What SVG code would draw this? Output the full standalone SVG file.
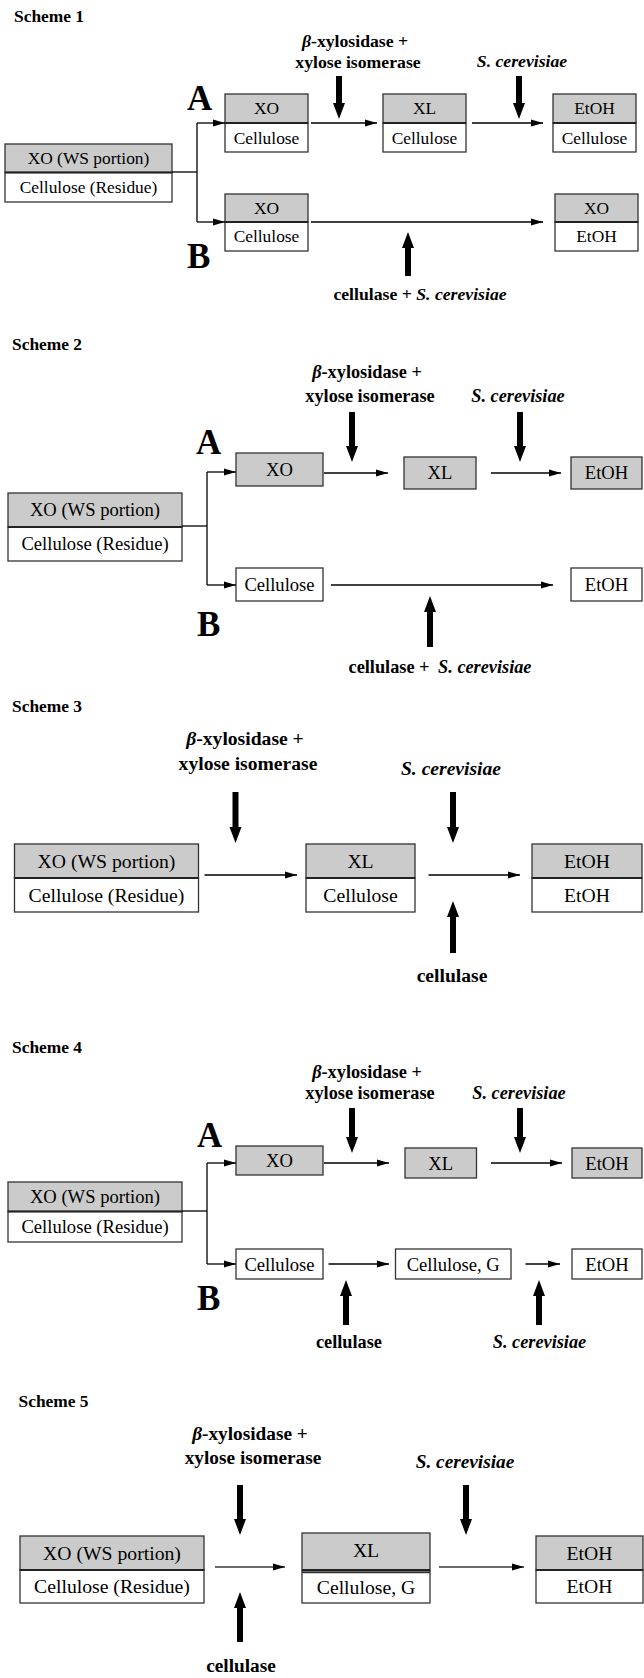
<svg xmlns="http://www.w3.org/2000/svg" width="644" height="1678" viewBox="0 0 644 1678">
<style>
text{font-family:"Liberation Serif","Times New Roman",serif;fill:#000}
.t{font-weight:bold;font-size:17.4px}
.bx{stroke:#333;stroke-width:1.3}
.g{fill:#cbcbcb}
.w{fill:#fff}
.dv{stroke:#222;stroke-width:2}
.c{text-anchor:middle}
.lb{font-weight:bold;text-anchor:middle}
.it{font-style:italic}
.big{font-weight:bold;font-size:35px}
.ln{stroke:#000;stroke-width:1.3;fill:none}
.ln5{stroke:#6a6a6a;stroke-width:2;fill:none}
.th{fill:#000}
.s1 .n{font-size:17.4px}.s1 .lb{font-size:17.7px}
.s2 .n{font-size:18.6px}.s2 .lb{font-size:18.3px}
.s3 .n{font-size:19.7px}.s3 .lb{font-size:19.6px}
.s4 .n{font-size:18.6px}.s4 .lb{font-size:18.3px}
.s5 .n{font-size:19.7px}.s5 .lb{font-size:19.3px}
</style>
<defs>
<marker id="ah" markerUnits="userSpaceOnUse" markerWidth="12" markerHeight="8" refX="12" refY="4" orient="auto"><path d="M0,0.5 L12,4 L0,7.5 Z" fill="#000"/></marker>
</defs>

<!-- ================= Scheme 1 ================= -->
<g class="s1">
<text class="t" x="14" y="22">Scheme 1</text>
<text class="big" x="187" y="110">A</text>
<text class="big" x="187" y="268">B</text>
<g id="s1-src"><rect class="bx g" x="5" y="144" width="167" height="28.5"/><rect class="bx w" x="5" y="172.5" width="167" height="29.5"/><line class="dv" x1="5" y1="172.5" x2="172" y2="172.5"/><text class="n c" x="88.5" y="164">XO (WS portion)</text><text class="n c" x="88.5" y="193">Cellulose (Residue)</text></g>
<g id="s1-a1"><rect class="bx g" x="225" y="94" width="83" height="29"/><rect class="bx w" x="225" y="123" width="83" height="29"/><line class="dv" x1="225" y1="123" x2="308" y2="123"/><text class="n c" x="266.5" y="114">XO</text><text class="n c" x="266.5" y="143.5">Cellulose</text></g>
<g id="s1-a2"><rect class="bx g" x="383" y="94" width="83" height="29"/><rect class="bx w" x="383" y="123" width="83" height="29"/><line class="dv" x1="383" y1="123" x2="466" y2="123"/><text class="n c" x="424.5" y="114">XL</text><text class="n c" x="424.5" y="143.5">Cellulose</text></g>
<g id="s1-a3"><rect class="bx g" x="553" y="94" width="83" height="29"/><rect class="bx w" x="553" y="123" width="83" height="29"/><line class="dv" x1="553" y1="123" x2="636" y2="123"/><text class="n c" x="594.5" y="114">EtOH</text><text class="n c" x="594.5" y="143.5">Cellulose</text></g>
<g id="s1-b1"><rect class="bx g" x="225" y="194" width="83" height="28"/><rect class="bx w" x="225" y="222" width="83" height="29"/><line class="dv" x1="225" y1="222" x2="308" y2="222"/><text class="n c" x="266.5" y="214">XO</text><text class="n c" x="266.5" y="242">Cellulose</text></g>
<g id="s1-b2"><rect class="bx g" x="555" y="194" width="83" height="28"/><rect class="bx w" x="555" y="222" width="83" height="29"/><line class="dv" x1="555" y1="222" x2="638" y2="222"/><text class="n c" x="596.5" y="214">XO</text><text class="n c" x="596.5" y="242">EtOH</text></g>
<text class="lb" x="355" y="47"><tspan class="it">β</tspan>-xylosidase +</text>
<text class="lb" x="358" y="68">xylose isomerase</text>
<text class="lb it" x="522" y="67">S. cerevisiae</text>
<text class="lb" x="420" y="300">cellulase + <tspan class="it">S. cerevisiae</tspan></text>
<g id="s1-conn">
<polyline class="ln" points="172,172 197,172"/>
<line class="ln" x1="197" y1="123" x2="197" y2="222"/>
<line class="ln" x1="197" y1="123" x2="225" y2="123" marker-end="url(#ah)"/>
<line class="ln" x1="197" y1="222" x2="225" y2="222" marker-end="url(#ah)"/>
<line class="ln" x1="311" y1="123" x2="377" y2="123" marker-end="url(#ah)"/>
<line class="ln" x1="472" y1="123" x2="543" y2="123" marker-end="url(#ah)"/>
<line class="ln" x1="311" y1="222" x2="543" y2="222" marker-end="url(#ah)"/>
<path class="th" d="M336,76 H342 V103 H345 L339,119 L333,103 H336 Z"/>
<path class="th" d="M516,76 H522 V103 H525 L519,119 L513,103 H516 Z"/>
<path class="th" d="M405,276 H411 V248 H414 L408,232 L402,248 H405 Z"/>
</g>
</g>

<!-- ================= Scheme 2 ================= -->
<g class="s2">
<text class="t" x="12" y="350">Scheme 2</text>
<text class="big" x="196" y="454">A</text>
<text class="big" x="197" y="636">B</text>
<g id="s2-src"><rect class="bx g" x="8" y="493" width="174" height="34"/><rect class="bx w" x="8" y="527" width="174" height="34"/><line class="dv" x1="8" y1="527" x2="182" y2="527"/><text class="n c" x="95" y="516">XO (WS portion)</text><text class="n c" x="95" y="550">Cellulose (Residue)</text></g>
<g id="s2-a1"><rect class="bx g" x="236" y="453" width="87" height="33"/><text class="n c" x="279.5" y="476">XO</text></g>
<g id="s2-a2"><rect class="bx g" x="404" y="457" width="72" height="32"/><text class="n c" x="440" y="479">XL</text></g>
<g id="s2-a3"><rect class="bx g" x="571" y="457" width="71" height="32"/><text class="n c" x="606.5" y="479">EtOH</text></g>
<g id="s2-b1"><rect class="bx w" x="236" y="568" width="87" height="33"/><text class="n c" x="279.5" y="591">Cellulose</text></g>
<g id="s2-b2"><rect class="bx w" x="571" y="568" width="71" height="33"/><text class="n c" x="606.5" y="591">EtOH</text></g>
<text class="lb" x="367" y="378"><tspan class="it">β</tspan>-xylosidase +</text>
<text class="lb" x="370" y="402">xylose isomerase</text>
<text class="lb it" x="518" y="402">S. cerevisiae</text>
<text class="lb" x="440" y="673">cellulase +  <tspan class="it" dx="4">S. cerevisiae</tspan></text>
<g id="s2-conn">
<line class="ln" x1="182" y1="526" x2="207" y2="526"/>
<line class="ln" x1="207" y1="472" x2="207" y2="585"/>
<line class="ln" x1="207" y1="472" x2="236" y2="472" marker-end="url(#ah)"/>
<line class="ln" x1="207" y1="585" x2="236" y2="585" marker-end="url(#ah)"/>
<line class="ln" x1="324" y1="473" x2="388" y2="473" marker-end="url(#ah)"/>
<line class="ln" x1="491" y1="473" x2="561" y2="473" marker-end="url(#ah)"/>
<line class="ln" x1="331" y1="585" x2="553" y2="585" marker-end="url(#ah)"/>
<path class="th" d="M349,412 H355 V446 H358 L352,462 L346,446 H349 Z"/>
<path class="th" d="M517,412 H523 V446 H526 L520,462 L514,446 H517 Z"/>
<path class="th" d="M427,647 H433 V612 H436 L430,596 L424,612 H427 Z"/>
</g>
</g>

<!-- ================= Scheme 3 ================= -->
<g class="s3">
<text class="t" x="12" y="712">Scheme 3</text>
<g id="s3-src"><rect class="bx g" x="14.5" y="844" width="184" height="34"/><rect class="bx w" x="14.5" y="878" width="184" height="34"/><line class="dv" x1="14.5" y1="878" x2="198.5" y2="878"/><text class="n c" x="106.5" y="868">XO (WS portion)</text><text class="n c" x="106.5" y="902">Cellulose (Residue)</text></g>
<g id="s3-mid"><rect class="bx g" x="306" y="844" width="109" height="34"/><rect class="bx w" x="306" y="878" width="109" height="34"/><line class="dv" x1="306" y1="878" x2="415" y2="878"/><text class="n c" x="360.5" y="868">XL</text><text class="n c" x="360.5" y="902">Cellulose</text></g>
<g id="s3-end"><rect class="bx g" x="532" y="844" width="110" height="34"/><rect class="bx w" x="532" y="878" width="110" height="34"/><line class="dv" x1="532" y1="878" x2="642" y2="878"/><text class="n c" x="587" y="868">EtOH</text><text class="n c" x="587" y="902">EtOH</text></g>
<text class="lb" x="245" y="745"><tspan class="it">β</tspan>-xylosidase +</text>
<text class="lb" x="248" y="770">xylose isomerase</text>
<text class="lb it" x="451" y="775">S. cerevisiae</text>
<text class="lb" x="452" y="982">cellulase</text>
<g id="s3-conn">
<line class="ln" x1="204.5" y1="875" x2="297" y2="875" marker-end="url(#ah)"/>
<line class="ln" x1="428.5" y1="875" x2="520" y2="875" marker-end="url(#ah)"/>
<path class="th" d="M232.5,792 H238.5 V827 H241.5 L235.5,843 L229.5,827 H232.5 Z"/>
<path class="th" d="M450,792 H456 V827 H459 L453,843 L447,827 H450 Z"/>
<path class="th" d="M450,953 H456 V917 H459 L453,901 L447,917 H450 Z"/>
</g>
</g>

<!-- ================= Scheme 4 ================= -->
<g class="s4">
<text class="t" x="12" y="1053">Scheme 4</text>
<text class="big" x="197" y="1147">A</text>
<text class="big" x="197" y="1310">B</text>
<g id="s4-src"><rect class="bx g" x="8" y="1182" width="174" height="29.5"/><rect class="bx w" x="8" y="1211.5" width="174" height="30.5"/><line class="dv" x1="8" y1="1211.5" x2="182" y2="1211.5"/><text class="n c" x="95" y="1203">XO (WS portion)</text><text class="n c" x="95" y="1233">Cellulose (Residue)</text></g>
<g id="s4-a1"><rect class="bx g" x="236" y="1146" width="87" height="29"/><text class="n c" x="279.5" y="1167">XO</text></g>
<g id="s4-a2"><rect class="bx g" x="405" y="1148" width="71.5" height="30"/><text class="n c" x="440.7" y="1169.5">XL</text></g>
<g id="s4-a3"><rect class="bx g" x="572" y="1148" width="70" height="30"/><text class="n c" x="607" y="1169.5">EtOH</text></g>
<g id="s4-b1"><rect class="bx w" x="236" y="1249" width="87" height="30"/><text class="n c" x="279.5" y="1270.5">Cellulose</text></g>
<g id="s4-b2"><rect class="bx w" x="395.5" y="1249" width="115.5" height="30"/><text class="n c" x="453.2" y="1270.5">Cellulose, G</text></g>
<g id="s4-b3"><rect class="bx w" x="572" y="1249" width="70" height="30"/><text class="n c" x="607" y="1270.5">EtOH</text></g>
<text class="lb" x="367" y="1078"><tspan class="it">β</tspan>-xylosidase +</text>
<text class="lb" x="370" y="1099">xylose isomerase</text>
<text class="lb it" x="519" y="1099">S. cerevisiae</text>
<text class="lb" x="349" y="1348">cellulase</text>
<text class="lb it" x="539.5" y="1348">S. cerevisiae</text>
<g id="s4-conn">
<line class="ln" x1="182" y1="1211" x2="207" y2="1211"/>
<line class="ln" x1="207" y1="1163" x2="207" y2="1264"/>
<line class="ln" x1="207" y1="1163" x2="236" y2="1163" marker-end="url(#ah)"/>
<line class="ln" x1="207" y1="1264" x2="236" y2="1264" marker-end="url(#ah)"/>
<line class="ln" x1="324" y1="1163" x2="389" y2="1163" marker-end="url(#ah)"/>
<line class="ln" x1="491" y1="1163" x2="562" y2="1163" marker-end="url(#ah)"/>
<line class="ln" x1="328.5" y1="1264" x2="389" y2="1264" marker-end="url(#ah)"/>
<line class="ln" x1="525.5" y1="1264" x2="560" y2="1264" marker-end="url(#ah)"/>
<path class="th" d="M349,1108 H355 V1137 H358 L352,1153 L346,1137 H349 Z"/>
<path class="th" d="M517,1108 H523 V1137 H526 L520,1153 L514,1137 H517 Z"/>
<path class="th" d="M343,1325 H349 V1296 H352 L346,1280 L340,1296 H343 Z"/>
<path class="th" d="M536,1325 H542 V1296 H545 L539,1280 L533,1296 H536 Z"/>
</g>
</g>

<!-- ================= Scheme 5 ================= -->
<g class="s5">
<text class="t" x="18.5" y="1407">Scheme 5</text>
<g id="s5-src"><rect class="bx g" x="20" y="1536" width="184" height="34"/><rect class="bx w" x="20" y="1570" width="184" height="33"/><line class="dv" x1="20" y1="1570" x2="204" y2="1570"/><text class="n c" x="112" y="1560">XO (WS portion)</text><text class="n c" x="112" y="1593">Cellulose (Residue)</text></g>
<g id="s5-mid"><rect class="bx g" x="302" y="1533" width="128" height="38"/><rect class="bx w" x="302" y="1571" width="128" height="32"/><line class="dv" x1="302" y1="1570" x2="430" y2="1570"/><line class="bx" x1="302" y1="1572.5" x2="430" y2="1572.5"/><text class="n c" x="366" y="1557">XL</text><text class="n c" x="366" y="1593.5">Cellulose, G</text></g>
<g id="s5-end"><rect class="bx g" x="536" y="1536" width="107" height="34"/><rect class="bx w" x="536" y="1570" width="107" height="33"/><line class="dv" x1="536" y1="1570" x2="643" y2="1570"/><text class="n c" x="589.5" y="1560">EtOH</text><text class="n c" x="589.5" y="1593">EtOH</text></g>
<text class="lb" x="250" y="1440"><tspan class="it">β</tspan>-xylosidase +</text>
<text class="lb" x="253" y="1464">xylose isomerase</text>
<text class="lb it" x="465" y="1468">S. cerevisiae</text>
<text class="lb" x="241" y="1672">cellulase</text>
<g id="s5-conn">
<line class="ln5" x1="215" y1="1567" x2="285" y2="1567" marker-end="url(#ah)"/>
<line class="ln5" x1="439" y1="1567" x2="524" y2="1567" marker-end="url(#ah)"/>
<path class="th" d="M237,1485 H243 V1519 H246 L240,1535 L234,1519 H237 Z"/>
<path class="th" d="M463,1485 H469 V1519 H472 L466,1535 L460,1519 H463 Z"/>
<path class="th" d="M237,1642 H243 V1608 H246 L240,1592 L234,1608 H237 Z"/>
</g>
</g>
</svg>
